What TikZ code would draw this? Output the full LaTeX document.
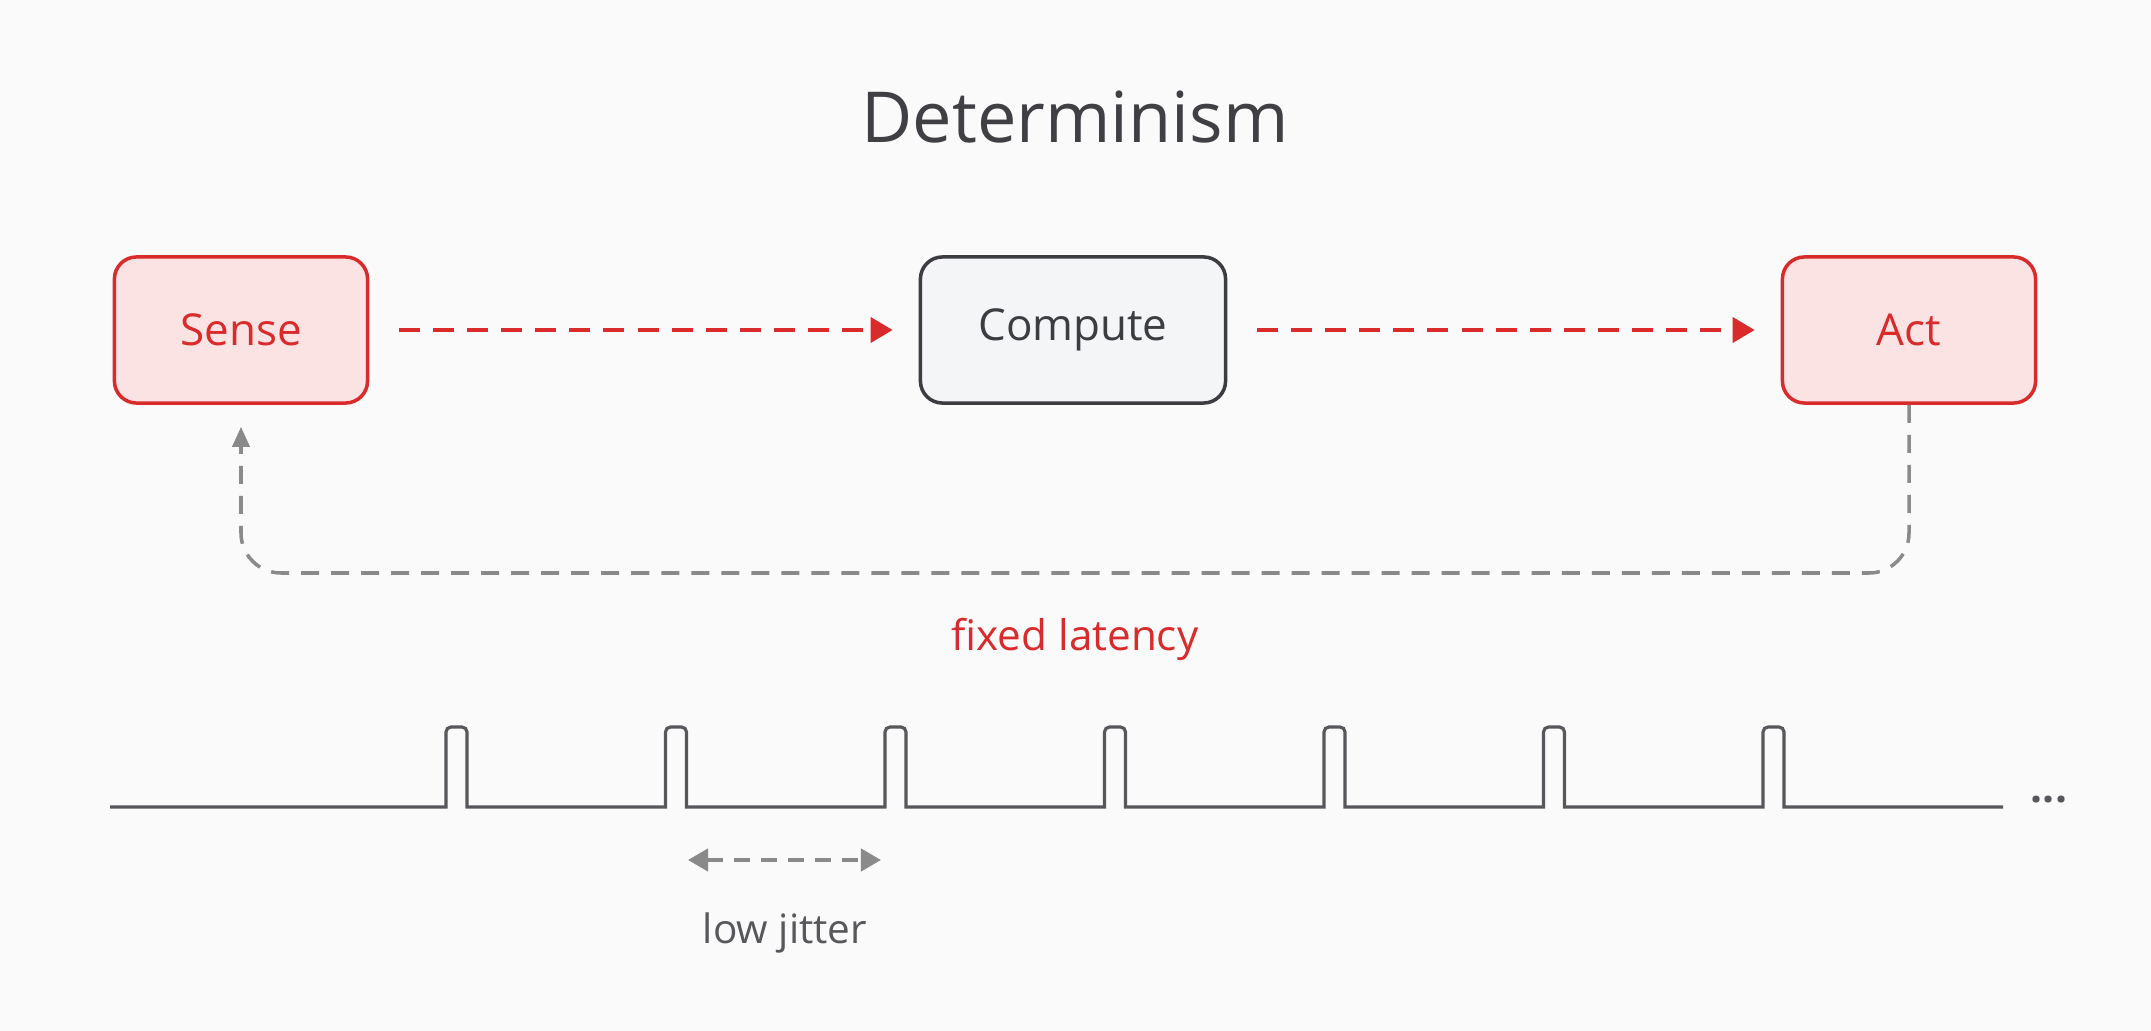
\documentclass[tikz,border=0pt]{standalone}
\usepackage{fontspec}
\setmainfont{Open Sans}
\usetikzlibrary{arrows.meta}

\definecolor{bgcol}{HTML}{FAFAFA}
\definecolor{detred}{HTML}{D92B2B}
\definecolor{detpink}{HTML}{FBE3E3}
\definecolor{cmpfill}{HTML}{F4F5F7}
\definecolor{cmpdraw}{HTML}{3C3C41}
\definecolor{titlecol}{HTML}{3F3F44}
\definecolor{loopgray}{HTML}{8A8A8A}
\definecolor{pulsegray}{HTML}{58585C}

\tikzset{
  stage/.style={rounded corners=0.22cm, line width=1pt, minimum width=2.53cm,
    minimum height=1.46cm, font=\fontsize{12.5}{15}\selectfont},
  redstage/.style={stage, draw=detred, fill=detpink, text=detred},
  greystage/.style={stage, draw=cmpdraw, fill=cmpfill, text=cmpdraw, minimum width=3.05cm},
  flow/.style={draw=detred, line width=1.1pt, dash pattern=on 0.21cm off 0.13cm,
    -{Triangle[length=0.22cm, width=0.25cm]}, shorten <=0.3cm, shorten >=0.26cm},
  feedback/.style={draw=loopgray, line width=1pt, dash pattern=on 0.18cm off 0.12cm,
    rounded corners=0.4cm, -{Triangle[length=0.2cm, width=0.17cm]}},
  pulse/.style={draw=pulsegray, line width=0.9pt},
  jitter/.style={draw=loopgray, line width=1.2pt, dash pattern=on 0.16cm off 0.11cm,
    {Triangle[length=0.2cm, width=0.22cm]}-{Triangle[length=0.2cm, width=0.22cm]}}
}

\begin{document}
\begin{tikzpicture}[x=0.01cm, y=-0.01cm]
  \path[fill=bgcol] (0,0) rectangle (2151,1031);

  \node[text=titlecol, font=\fontsize{20}{24}\selectfont] (title) at (1075,117) {Determinism};

  % the three stages
  \node[redstage] (sense) at (241,330) {Sense};
  \node[greystage] (compute) at (1073,330) {Compute};
  \node[redstage] (act) at (1909,330) {Act};

  \draw[flow] (sense) -- (compute);
  \draw[flow] (compute) -- (act);

  % loop back
  \coordinate (loop) at (1075,573);
  \draw[feedback] (act.south) |- (loop) -| ([yshift=-0.22cm]sense.south);
  \node[text=detred, font=\fontsize{12}{14}\selectfont] (latency) at (1075,639) {fixed latency};

  % pulse train
  \draw[pulse] (110,807)
    \foreach \i in {0,...,6} { -- ({446+219.5*\i},807) [rounded corners=0.05cm] -- ({446+219.5*\i},727)
      -- ({467+219.5*\i},727) [sharp corners] -- ({467+219.5*\i},807) } -- (2003,807);
  \node[text=pulsegray, font=\bfseries\fontsize{12}{14}\selectfont] (more) at (2049,800) {...};

  \coordinate (jleft) at (688,860);
  \coordinate (jright) at (881,860);
  \draw[jitter] (jleft) -- (jright);
  \node[text=pulsegray, font=\fontsize{11.5}{14}\selectfont] (jit) at (785,933) {low jitter};
\end{tikzpicture}
\end{document}
